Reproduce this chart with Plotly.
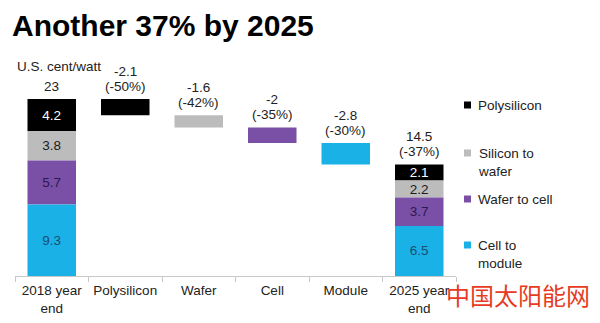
import plotly.graph_objects as go

# ---------------- data ----------------
categories = ["2018 year<br>end", "Polysilicon", "Wafer", "Cell", "Module", "2025 year<br>end"]
components = ["Polysilicon", "Silicon to<br>wafer", "Wafer to cell", "Cell to<br>module"]  # top -> bottom of stack
values_2018 = [4.2, 3.8, 5.7, 9.3]
values_2025 = [2.1, 2.2, 3.7, 6.5]
changes = [-2.1, -1.6, -2.0, -2.8]
change_pct = ["-50%", "-42%", "-35%", "-30%"]
total_2018 = 23
total_2025 = 14.5
total_pct = "-37%"

# ---------------- style ----------------
colors = ["#000000", "#bcbcbc", "#7a50a6", "#1ab1e7"]
inner_text_colors = ["#ffffff", "#1a1a1a", "#2c1850", "#1d4d74"]
FONT = "Liberation Sans, Arial, sans-serif"
W, H = 600, 323
ML, MR, MT, MB = 15, 144, 60, 47
PLOT_W = W - ML - MR
PLOT_H = H - MT - MB
YMAX = 28.07


def px2x(p):
    return (p - ML) / PLOT_W


def px2y(p):
    return (H - MB - p) / PLOT_H


def fmt(v):
    return f"{v:g}"


fig = go.Figure()
running = total_2018
for i, comp in enumerate(components):
    base18 = sum(values_2018[i + 1:])
    base25 = sum(values_2025[i + 1:])
    running = running + changes[i]
    fig.add_trace(go.Bar(
        x=[categories[0], categories[i + 1], categories[5]],
        y=[values_2018[i], -changes[i], values_2025[i]],
        base=[base18, running, base25],
        name=comp,
        marker=dict(color=colors[i], line=dict(width=0)),
        width=0.66,
        text=[fmt(values_2018[i]), "", fmt(values_2025[i])],
        textposition="inside",
        insidetextanchor="middle",
        textfont=dict(color=inner_text_colors[i], size=13.5, family=FONT),
        showlegend=False,
        hoverinfo="skip",
    ))

annotations = []


def label(x, y, lines):
    # stack lines upward from the bar top, 15 px apart
    for k, line in enumerate(reversed(lines)):
        annotations.append(dict(x=x, y=y, xref="x", yref="y", text=line, showarrow=False,
                                yanchor="bottom", yshift=3 + 15 * k))


label(categories[0], total_2018, [fmt(total_2018)])
running = total_2018
for i in range(len(changes)):
    label(categories[i + 1], running, [fmt(changes[i]), f"({change_pct[i]})"])
    running += changes[i]
label(categories[5], total_2025, [fmt(total_2025), f"({total_pct})"])

# unit label
annotations.append(dict(x=px2x(15), y=px2y(66), xref="paper", yref="paper", text="U.S. cent/watt",
                        showarrow=False, xanchor="left", yanchor="middle"))

# legend (custom)
legend_rows = [105, 153, 199, 245]
shapes = []
for i, comp in enumerate(components):
    py = legend_rows[i]
    shapes.append(dict(type="rect", xref="paper", yref="paper",
                       x0=px2x(464), x1=px2x(471), y0=px2y(py + 3.5), y1=px2y(py - 3.5),
                       fillcolor=colors[i], line=dict(width=0)))
    annotations.append(dict(x=px2x(476), y=px2y(py - 9), xref="paper", yref="paper", text=comp,
                            showarrow=False, xanchor="left", yanchor="top", align="left",
                            font=dict(size=13.5, color="#222222", family=FONT)))

# watermark
annotations.append(dict(x=px2x(444), y=px2y(294), xref="paper", yref="paper", text="中国太阳能网",
                        showarrow=False, xanchor="left", yanchor="middle",
                        font=dict(size=24, color="#e63b1f", family="Noto Sans CJK SC")))

fig.update_layout(
    width=W, height=H,
    margin=dict(l=ML, r=MR, t=MT, b=MB, autoexpand=False),
    barmode="overlay",
    paper_bgcolor="#ffffff",
    plot_bgcolor="#ffffff",
    font=dict(family=FONT, size=13.5, color="#222222"),
    title=dict(text="Another 37% by 2025", x=12 / W, xanchor="left", xref="container",
               y=1 - 25 / H, yanchor="middle", yref="container",
               font=dict(family=FONT, size=30, color="#000000", weight=700)),
    uniformtext=dict(minsize=13, mode="show"),
    annotations=annotations,
    shapes=shapes,
    xaxis=dict(type="category", categoryorder="array", categoryarray=categories,
               showgrid=False, showline=True, linecolor="#c8c8c8", linewidth=1,
               ticks="outside", tickson="boundaries", ticklen=5, tickcolor="#c8c8c8",
               ticklabelstandoff=2, automargin=False,
               tickfont=dict(size=13.5, color="#222222", family=FONT), fixedrange=True),
    yaxis=dict(range=[0, YMAX], visible=False, showgrid=False, zeroline=False, fixedrange=True),
    showlegend=False,
)

fig.write_html("out.html", config={"displayModeBar": False})
